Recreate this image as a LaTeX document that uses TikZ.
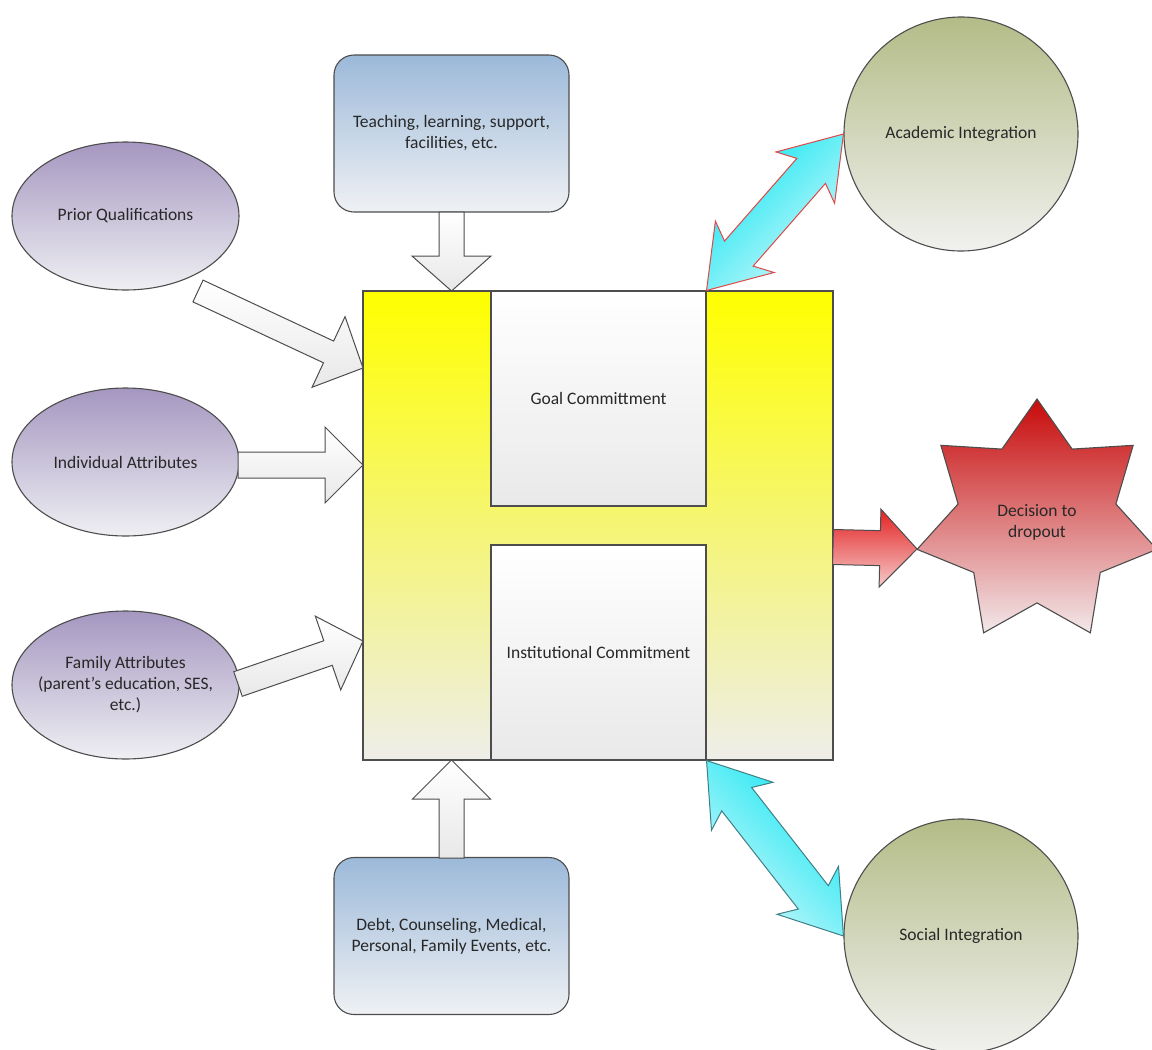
\documentclass[tikz,border=0pt]{standalone}
\usepackage{fontspec}
\setmainfont{Carlito}
\usetikzlibrary{calc,shapes.geometric}
\definecolor{txt}{HTML}{282828}
\definecolor{edgegray}{HTML}{4D4D4D}
\definecolor{purpleTop}{HTML}{A597C0}
\definecolor{purpleBot}{HTML}{EFEFF3}
\definecolor{blueTop}{HTML}{9CB9D9}
\definecolor{blueBot}{HTML}{EFF1F4}
\definecolor{oliveTop}{HTML}{B3BC87}
\definecolor{oliveBot}{HTML}{F1F1EF}
\definecolor{starTop}{HTML}{C80A0A}
\definecolor{starBot}{HTML}{F2E8EA}
\definecolor{redTop}{HTML}{E32222}
\definecolor{redBot}{HTML}{F6CACA}
\definecolor{yTop}{HTML}{FFFF00}
\definecolor{yMid}{HTML}{F5F575}
\definecolor{yBot}{HTML}{EEEEEA}
\definecolor{boxBot}{HTML}{E9E9E9}
\definecolor{cyanA}{HTML}{12E6F2}
\definecolor{cyanB}{HTML}{D2F8FB}
\definecolor{warrBot}{HTML}{E8E8E8}
\definecolor{cyanEdgeRed}{HTML}{E04848}
\definecolor{cyanEdgeTeal}{HTML}{3F7F86}

% single block arrow: #1 tail, #2 tip, #3 shaft half width, #4 head half width, #5 head length, #6 style
\newcommand\sblock[6]{%
  \coordinate (tmpP) at ($(#2)!#5!(#1)$);
  \draw[#6] ($(#1)!#3!90:(#2)$) -- ($(tmpP)!#3!-90:(#1)$) -- ($(tmpP)!#4!-90:(#1)$)
    -- (#2) -- ($(tmpP)!#4!90:(#1)$) -- ($(tmpP)!#3!90:(#1)$) -- ($(#1)!#3!-90:(#2)$) -- cycle;}
% double block arrow with swept barbs: #1 A, #2 B, #3 shaft half, #4 head half, #5 notch dist, #6 barb dist, #7 style
\newcommand\dblock[7]{%
  \coordinate (tmpA) at ($(#1)!#5!(#2)$);
  \coordinate (tmpAb) at ($(#1)!#6!(#2)$);
  \coordinate (tmpB) at ($(#2)!#5!(#1)$);
  \coordinate (tmpBb) at ($(#2)!#6!(#1)$);
  \draw[#7] (#1) -- ($(tmpAb)!#4!90:(#2)$) -- ($(tmpA)!#3!90:(#2)$) -- ($(tmpB)!#3!-90:(#1)$)
    -- ($(tmpBb)!#4!-90:(#1)$) -- (#2) -- ($(tmpBb)!#4!90:(#1)$) -- ($(tmpB)!#3!90:(#1)$)
    -- ($(tmpA)!#3!-90:(#2)$) -- ($(tmpAb)!#4!-90:(#2)$) -- cycle;}

\begin{document}
\begin{tikzpicture}[x=1pt,y=-1pt,
  every node/.style={text=txt, font=\fontsize{17.5}{21}\selectfont},
  outl/.style={draw=edgegray, line width=1.1pt},
  ell/.style={outl, ellipse, minimum width=227pt, minimum height=148pt, inner sep=0pt,
    top color=purpleTop, bottom color=purpleBot, align=center},
  bluebox/.style={outl, rectangle, rounded corners=20pt, minimum width=235pt, minimum height=157pt,
    top color=blueTop, bottom color=blueBot, align=center},
  olive/.style={outl, circle, minimum size=234pt, inner sep=0pt, top color=oliveTop, bottom color=oliveBot},
  commit/.style={outl, rectangle, minimum width=215pt, minimum height=215pt, inner sep=0pt,
    top color=white, bottom color=boxBot},
  warr/.style={draw=edgegray, line width=1pt, top color=white, bottom color=warrBot},
  rarr/.style={draw=edgegray, line width=1pt, top color=redTop, bottom color=redBot},
  carrA/.style={draw=cyanEdgeRed, line width=1pt, top color=cyanA, bottom color=cyanB, shading angle=45},
  carrB/.style={draw=cyanEdgeTeal, line width=1pt, top color=cyanA, bottom color=cyanB, shading angle=-45}]
\useasboundingbox (0,0) rectangle (1152,1050);

% central H block
\node[outl, rectangle, minimum width=470pt, minimum height=469pt, inner sep=0pt,
  top color=yTop, bottom color=yBot, middle color=yMid] (main) at (598,525.5) {};
\node[commit] (goal) at (598.5,398.5) {Goal Committment};
\node[commit] (inst) at (598.5,652.5) {Institutional Commitment};

% left ellipses
\node[ell] (pq) at (125.5,216) {Prior Qualifications};
\node[ell] (ia) at (125.5,462) {Individual Attributes};
\node[ell, label={[align=center, text=txt, name=falab]center:Family Attributes\\(parent’s education, SES,\\etc.)}] (fa) at (125.5,685) {};

% top and bottom boxes
\node[bluebox] (tb) at (451.5,133.5) {Teaching, learning, support,\\facilities, etc.};
\node[bluebox] (bb) at (451.5,936) {Debt, Counseling, Medical,\\Personal, Family Events, etc.};

% right circles and star
\node[olive] (ai) at (961,134) {Academic Integration};
\node[olive] (si) at (961,936) {Social Integration};
\node[outl, star, star points=7, star point ratio=1.52, minimum size=246pt, inner sep=0pt,
  top color=starTop, bottom color=starBot, align=center] (dec) at (1037,522) {Decision to\\dropout};

% arrow endpoints
\coordinate (pqT) at (198,291);  \coordinate (pqH) at (363,368);
\coordinate (iaT) at (238,465);  \coordinate (iaH) at (363,465);
\coordinate (faT) at (238,684);  \coordinate (faH) at (363,641);
\coordinate (tbT) at (451.5,212); \coordinate (tbH) at (451.5,291);
\coordinate (bbT) at (451.5,858); \coordinate (bbH) at (451.5,760);
\coordinate (dcT) at (833,547);  \coordinate (dcH) at (917,549);

\sblock{pqT}{pqH}{12pt}{39pt}{38pt}{warr}
\sblock{iaT}{iaH}{13pt}{38pt}{38pt}{warr}
\sblock{faT}{faH}{13pt}{39pt}{37pt}{warr}
\sblock{tbT}{tbH}{12.5pt}{39.5pt}{35pt}{warr}
\sblock{bbT}{bbH}{12.5pt}{39pt}{39pt}{warr}
\sblock{dcT}{dcH}{17.5pt}{39pt}{37pt}{rarr}

\dblock{goal.north east}{ai.west}{19pt}{39pt}{49pt}{58pt}{carrA}
\dblock{inst.south east}{si.west}{19pt}{39pt}{49pt}{58pt}{carrB}
\end{tikzpicture}
\end{document}
